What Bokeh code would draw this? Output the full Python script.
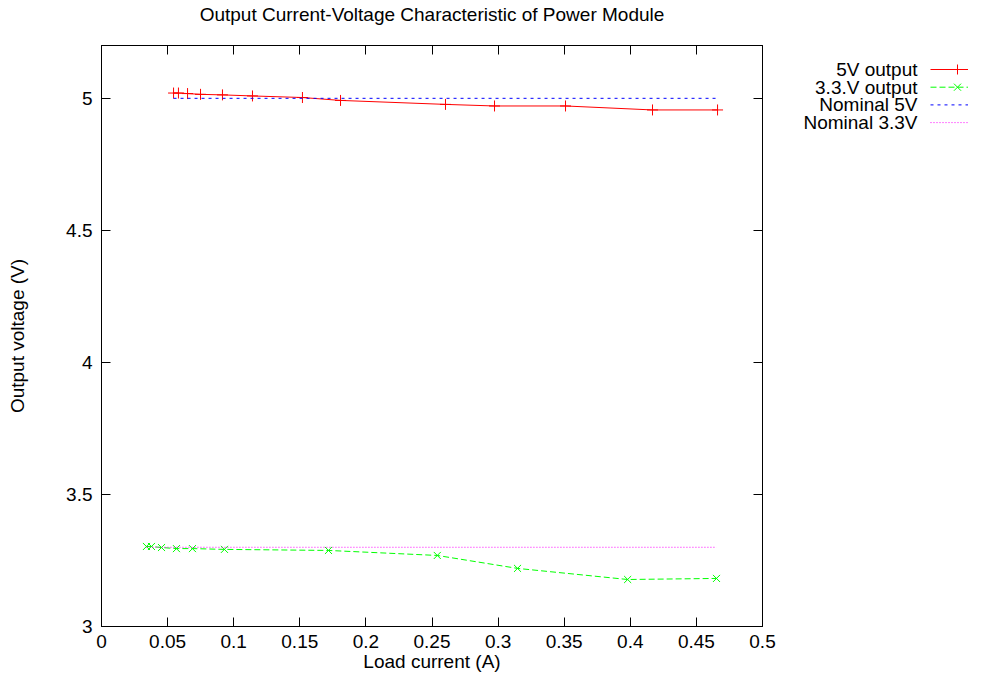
from bokeh.plotting import figure
from bokeh.models import Range1d, LinearAxis, FixedTicker
from bokeh.layouts import row
from bokeh.embed import file_html
from bokeh.resources import INLINE
from bokeh.core.properties import value

# ---------------- data ----------------
title_text = "Output Current-Voltage Characteristic of Power Module"
x_label = "Load current (A)"
y_label = "Output voltage (V)"

x_ticks = [0, 0.05, 0.1, 0.15, 0.2, 0.25, 0.3, 0.35, 0.4, 0.45, 0.5]
x_tick_labels = ["0", "0.05", "0.1", "0.15", "0.2", "0.25", "0.3", "0.35", "0.4", "0.45", "0.5"]
y_ticks = [3, 3.5, 4, 4.5, 5]
y_tick_labels = ["3", "3.5", "4", "4.5", "5"]

i_5v = [0.0545, 0.0582, 0.0651, 0.0749, 0.0915, 0.1142, 0.152, 0.1808,
        0.2602, 0.2973, 0.3510, 0.4168, 0.4660]
v_5v = [5.020, 5.020, 5.018, 5.015, 5.013, 5.009, 5.003, 4.992,
        4.977, 4.971, 4.971, 4.956, 4.956]

i_33 = [0.034, 0.0378, 0.0454, 0.0567, 0.0688, 0.093, 0.1717, 0.254,
        0.3147, 0.398, 0.4652]
v_33 = [3.303, 3.303, 3.299, 3.295, 3.295, 3.292, 3.288, 3.269,
        3.220, 3.178, 3.182]

nominal_5 = 5.0
nominal_33 = 3.3

legend_labels = ["5V output", "3.3.V output", "Nominal 5V", "Nominal 3.3V"]
legend_colors = ["#ff0000", "#00ff00", "#0000ff", "#ff00ff"]
legend_dashes = ["solid", "6 3", "3 4", "1 2"]
legend_markers = ["cross", "x", None, None]

FONT = "Liberation Sans"
FS = "19px"

# ---------------- main plot ----------------
W, H = 778, 674
ML, MR, MT, MB = 101, 16, 45, 48
p = figure(width=W, height=H, x_range=Range1d(0, 0.5), y_range=Range1d(3, 5.2),
           toolbar_location=None, output_backend="svg", title_location=None,
           min_border_left=ML, min_border_right=MR, min_border_top=MT, min_border_bottom=MB)
p.grid.visible = False
p.outline_line_color = "black"
p.background_fill_color = "white"
p.border_fill_color = "white"

frame_h = H - MT - MB


def style_axis(ax, ticks, labels, show):
    ax.ticker = FixedTicker(ticks=ticks)
    ax.major_tick_in = 9
    ax.major_tick_out = 0
    ax.minor_tick_line_color = None
    ax.axis_line_color = "black"
    ax.major_tick_line_color = "black"
    ax.major_label_text_font = FONT
    ax.major_label_text_font_size = FS
    ax.major_label_text_color = "black"
    if show:
        ax.major_label_overrides = {t: l for t, l in zip(ticks, labels)}
    else:
        ax.major_label_overrides = {t: "" for t in ticks}
        ax.major_label_standoff = 0


def style_label(ax, txt, so):
    ax.axis_label = txt
    ax.axis_label_text_font = FONT
    ax.axis_label_text_font_size = FS
    ax.axis_label_text_font_style = "normal"
    ax.axis_label_text_color = "black"
    ax.axis_label_standoff = so


style_axis(p.xaxis[0], x_ticks, x_tick_labels, True)
style_axis(p.yaxis[0], y_ticks, y_tick_labels, True)
p.xaxis[0].major_label_standoff = 8
p.yaxis[0].major_label_standoff = 9
style_label(p.xaxis[0], x_label, 0)
style_label(p.yaxis[0], y_label, 35)

# top axis: mirrored ticks, carries the chart title
top_ax = LinearAxis()
style_axis(top_ax, x_ticks, x_tick_labels, False)
style_label(top_ax, title_text, 21)
p.add_layout(top_ax, "above")
right_ax = LinearAxis()
style_axis(right_ax, y_ticks, y_tick_labels, False)
p.add_layout(right_ax, "right")

# series
p.line(i_5v, v_5v, line_color=legend_colors[0], line_width=1)
p.scatter(i_5v, v_5v, marker="cross", size=11, line_color=legend_colors[0], line_width=1)

p.line(i_33, v_33, line_color=legend_colors[1], line_width=1, line_dash=legend_dashes[1])
p.scatter(i_33, v_33, marker="x", size=10, line_color=legend_colors[1], line_width=1)

p.line(i_5v, [nominal_5] * len(i_5v), line_color=legend_colors[2], line_width=1,
       line_dash=legend_dashes[2])
p.line(i_33, [nominal_33] * len(i_33), line_color=legend_colors[3], line_width=1,
       line_dash=legend_dashes[3])

# ---------------- legend panel (gnuplot style: text left, sample right) ----------------
# the row aligns this panel's frame with the main frame, so map canvas pixels onto it
LW = 190
lg = figure(width=LW, height=H, x_range=Range1d(0, LW), y_range=Range1d(MT + frame_h, MT),
            toolbar_location=None, output_backend="svg", title_location=None,
            min_border=0, min_border_left=0, min_border_right=0,
            min_border_top=0, min_border_bottom=0,
            x_axis_type=None, y_axis_type=None)
lg.outline_line_color = None
lg.grid.visible = False

row_y0, row_dy = 69, 17.7
text_right, line_x0, line_x1, mark_x = 139, 152, 190, 179
for k, (lab, col, dash, mk) in enumerate(zip(legend_labels, legend_colors, legend_dashes, legend_markers)):
    yy = row_y0 + k * row_dy
    lg.text(x=[text_right], y=[yy], text=[lab], text_align="right", text_baseline="middle",
            text_font=value(FONT), text_font_size=FS, text_color="black")
    lg.segment(x0=[line_x0], y0=[yy], x1=[line_x1], y1=[yy], line_color=col,
               line_width=1, line_dash=dash)
    if mk:
        lg.scatter([mark_x], [yy], marker=mk, size=10, line_color=col, line_width=1)

layout = row(p, lg)
open("out.html", "w").write(file_html(layout, INLINE))
